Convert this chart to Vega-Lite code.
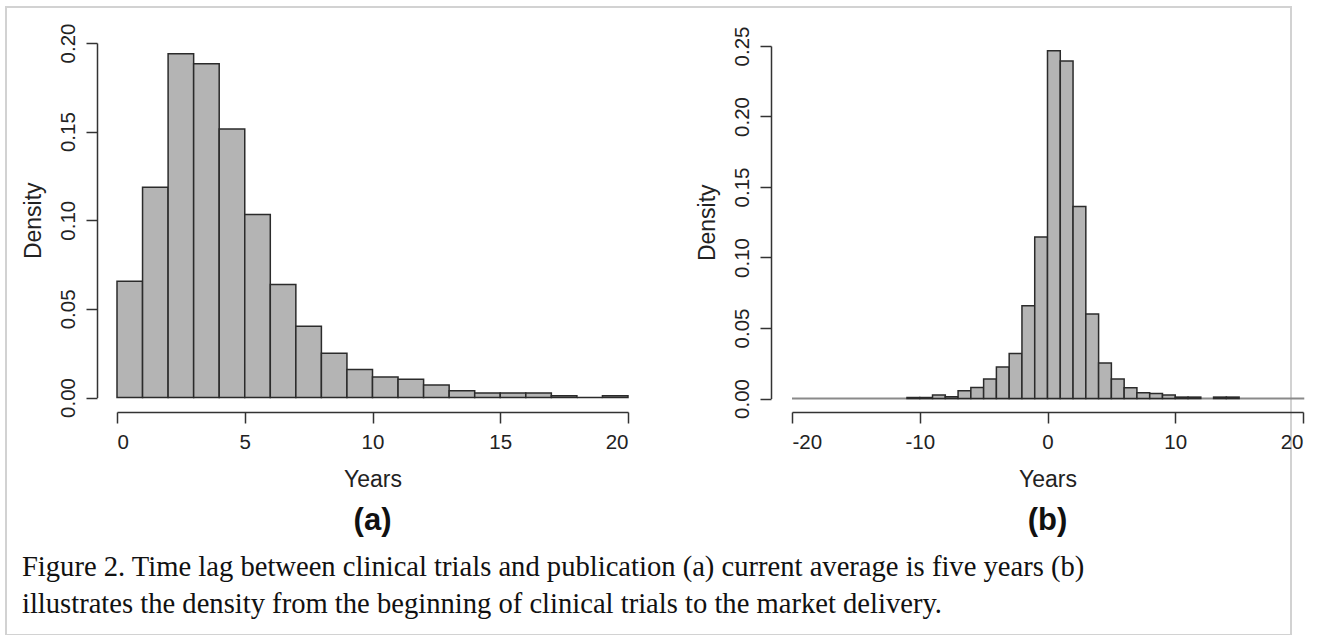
{
  "$schema": "https://vega.github.io/schema/vega-lite/v6.json",
  "width": 1285,
  "height": 628,
  "autosize": {"type": "none"},
  "padding": {"left": 6, "top": 7, "right": 30, "bottom": 0},
  "background": "white",
  "config": {
    "view": {"stroke": "#d2d2d2", "strokeWidth": 2},
    "axis": {
      "grid": false,
      "labelFont": "Liberation Sans",
      "titleFont": "Liberation Sans",
      "labelFontSize": 20.5,
      "titleFontSize": 23,
      "titleFontWeight": "normal",
      "labelColor": "#222222",
      "titleColor": "#222222",
      "domainColor": "#333333",
      "tickColor": "#333333",
      "domainWidth": 1.5,
      "tickWidth": 1.5,
      "tickSize": 11
    }
  },
  "datasets": {
    "lag_publication": [
      {"start": 0, "end": 1, "density": 0.0656},
      {"start": 1, "end": 2, "density": 0.1186},
      {"start": 2, "end": 3, "density": 0.194},
      {"start": 3, "end": 4, "density": 0.1883},
      {"start": 4, "end": 5, "density": 0.1515},
      {"start": 5, "end": 6, "density": 0.1032},
      {"start": 6, "end": 7, "density": 0.0637},
      {"start": 7, "end": 8, "density": 0.0402},
      {"start": 8, "end": 9, "density": 0.025},
      {"start": 9, "end": 10, "density": 0.0158},
      {"start": 10, "end": 11, "density": 0.0115},
      {"start": 11, "end": 12, "density": 0.0103},
      {"start": 12, "end": 13, "density": 0.007},
      {"start": 13, "end": 14, "density": 0.0038},
      {"start": 14, "end": 15, "density": 0.0026},
      {"start": 15, "end": 16, "density": 0.0026},
      {"start": 16, "end": 17, "density": 0.0026},
      {"start": 17, "end": 18, "density": 0.001},
      {"start": 18, "end": 19, "density": 0},
      {"start": 19, "end": 20, "density": 0.001}
    ],
    "lag_market": [
      {"start": -11, "end": -10, "density": 0.0007},
      {"start": -10, "end": -9, "density": 0.0007},
      {"start": -9, "end": -8, "density": 0.0024},
      {"start": -8, "end": -7, "density": 0.0012},
      {"start": -7, "end": -6, "density": 0.0055},
      {"start": -6, "end": -5, "density": 0.0078},
      {"start": -5, "end": -4, "density": 0.0138},
      {"start": -4, "end": -3, "density": 0.0223},
      {"start": -3, "end": -2, "density": 0.032},
      {"start": -2, "end": -1, "density": 0.0658},
      {"start": -1, "end": 0, "density": 0.1145},
      {"start": 0, "end": 1, "density": 0.2466},
      {"start": 1, "end": 2, "density": 0.2394},
      {"start": 2, "end": 3, "density": 0.1361},
      {"start": 3, "end": 4, "density": 0.0599},
      {"start": 4, "end": 5, "density": 0.0252},
      {"start": 5, "end": 6, "density": 0.0138},
      {"start": 6, "end": 7, "density": 0.0076},
      {"start": 7, "end": 8, "density": 0.004},
      {"start": 8, "end": 9, "density": 0.0036},
      {"start": 9, "end": 10, "density": 0.0024},
      {"start": 10, "end": 11, "density": 0.001},
      {"start": 11, "end": 12, "density": 0.001},
      {"start": 13, "end": 14, "density": 0.001},
      {"start": 14, "end": 15, "density": 0.001}
    ]
  },
  "layer": [
    {
      "data": {"name": "lag_publication"},
      "mark": {"type": "rect", "fill": "#b4b4b4", "stroke": "#2b2b2b", "strokeWidth": 1.5},
      "encoding": {
        "x": {
          "field": "start", "type": "quantitative",
          "scale": {"domain": [0, 20], "range": [111, 622], "nice": false, "zero": false},
          "axis": {"orient": "bottom", "offset": -223, "values": [0, 5, 10, 15, 20], "labelPadding": 9, "title": "Years", "titlePadding": 16}
        },
        "x2": {"field": "end"},
        "y": {
          "field": "density", "type": "quantitative",
          "scale": {"domain": [0, 0.2], "range": [390.5, 36], "nice": false},
          "axis": {"orient": "left", "offset": -91, "values": [0, 0.05, 0.1, 0.15, 0.2], "format": ".2f", "labelAngle": -90, "labelAlign": "center", "labelBaseline": "bottom", "labelPadding": 8, "title": "Density", "titlePadding": 13}
        },
        "y2": {"datum": 0}
      }
    },
    {
      "data": {"values": [{}]},
      "mark": {"type": "text", "text": "(a)", "font": "Liberation Sans", "fontWeight": "bold", "fontSize": 31, "align": "center", "baseline": "middle", "color": "#111111"},
      "encoding": {
        "x": {"datum": 10, "type": "quantitative", "scale": {"domain": [0, 20], "range": [111, 622], "nice": false, "zero": false}, "axis": null},
        "y": {"datum": -0.0697, "type": "quantitative", "scale": {"domain": [0, 0.2], "range": [390.5, 36], "nice": false}, "axis": null}
      }
    },
    {
      "data": {"values": [{}]},
      "mark": {"type": "text", "text": ["Figure 2. Time lag between clinical trials and publication (a) current average is five years (b)", "illustrates the density from the beginning of clinical trials to the market delivery."], "font": "Liberation Serif", "fontSize": 28.6, "lineHeight": 37, "align": "left", "baseline": "alphabetic", "color": "#111111"},
      "encoding": {
        "x": {"datum": -3.72, "type": "quantitative", "scale": {"domain": [0, 20], "range": [111, 622], "nice": false, "zero": false}, "axis": null},
        "y": {"datum": -0.1007, "type": "quantitative", "scale": {"domain": [0, 0.2], "range": [390.5, 36], "nice": false}, "axis": null}
      }
    },
    {
      "data": {"values": [{}]},
      "mark": {"type": "rule", "stroke": "#8a8a8a", "strokeWidth": 2},
      "encoding": {
        "x": {"datum": -20, "type": "quantitative", "scale": {"domain": [-20, 20], "range": [786, 1297], "nice": false, "zero": false}, "axis": null},
        "x2": {"datum": 20.1},
        "y": {"datum": 0, "type": "quantitative", "scale": {"domain": [0, 0.25], "range": [391.5, 39], "nice": false}, "axis": null}
      }
    },
    {
      "data": {"name": "lag_market"},
      "mark": {"type": "rect", "fill": "#b4b4b4", "stroke": "#2b2b2b", "strokeWidth": 1.5},
      "encoding": {
        "x": {
          "field": "start", "type": "quantitative",
          "scale": {"domain": [-20, 20], "range": [786, 1297], "nice": false, "zero": false},
          "axis": {"orient": "bottom", "offset": -223, "values": [-20, -10, 0, 10, 20], "labelExpr": "'' + datum.value", "labelPadding": 9, "title": "Years", "titlePadding": 16}
        },
        "x2": {"field": "end"},
        "y": {
          "field": "density", "type": "quantitative",
          "scale": {"domain": [0, 0.25], "range": [391.5, 39], "nice": false},
          "axis": {"orient": "left", "offset": -765, "values": [0, 0.05, 0.1, 0.15, 0.2, 0.25], "format": ".2f", "labelAngle": -90, "labelAlign": "center", "labelBaseline": "bottom", "labelPadding": 8, "title": "Density", "titlePadding": 13}
        },
        "y2": {"datum": 0}
      }
    },
    {
      "data": {"values": [{}]},
      "mark": {"type": "text", "text": "(b)", "font": "Liberation Sans", "fontWeight": "bold", "fontSize": 31, "align": "center", "baseline": "middle", "color": "#111111"},
      "encoding": {
        "x": {"datum": 0, "type": "quantitative", "scale": {"domain": [-20, 20], "range": [786, 1297], "nice": false, "zero": false}, "axis": null},
        "y": {"datum": -0.0869, "type": "quantitative", "scale": {"domain": [0, 0.25], "range": [391.5, 39], "nice": false}, "axis": null}
      }
    }
  ],
  "resolve": {
    "scale": {"x": "independent", "y": "independent"},
    "axis": {"x": "independent", "y": "independent"}
  }
}
